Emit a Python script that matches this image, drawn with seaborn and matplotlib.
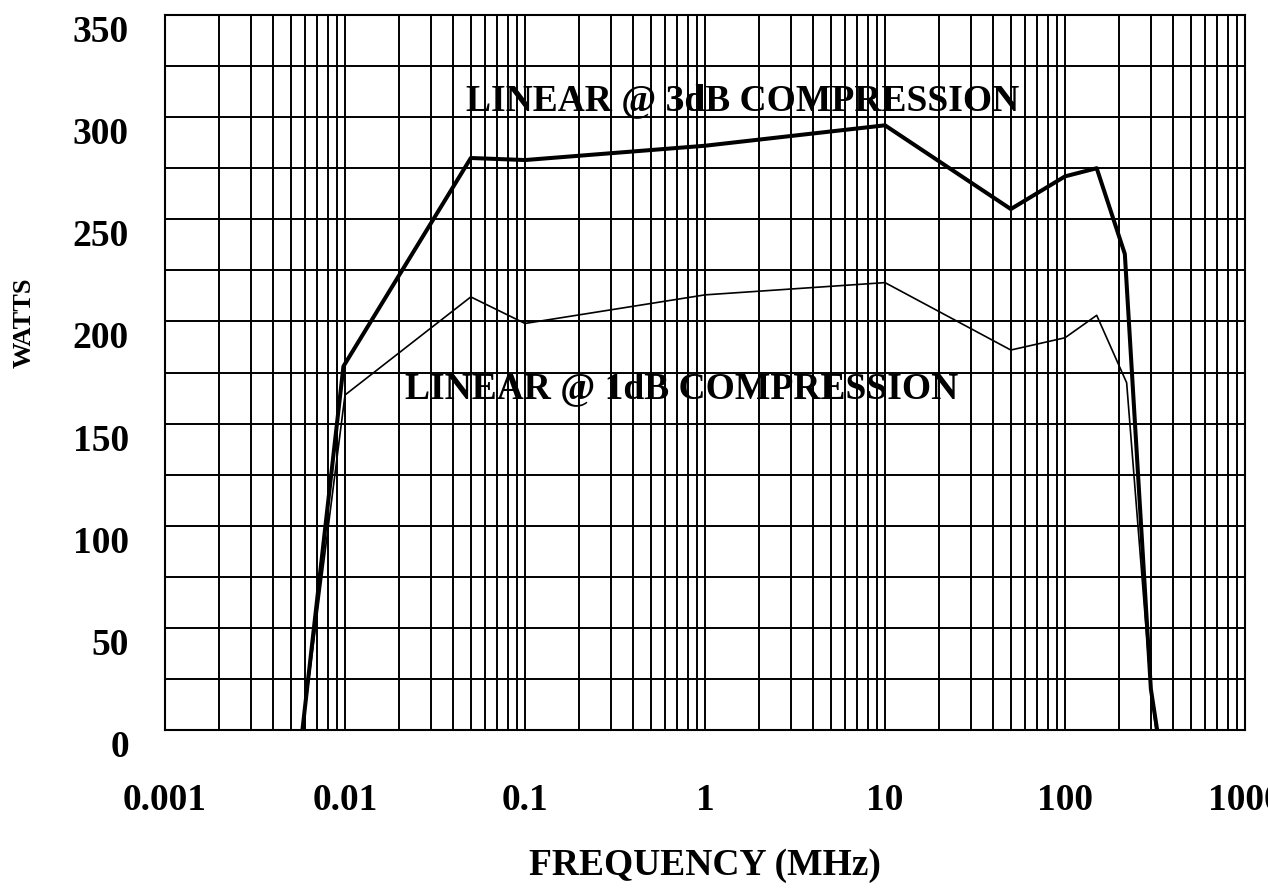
import matplotlib
matplotlib.use('Agg')
import matplotlib.pyplot as plt
import pandas as pd
import seaborn as sns
from matplotlib.ticker import MultipleLocator, LogLocator, FixedLocator, NullFormatter

# 3dB compression curve (thick)
freq_3db = [0.0058, 0.0098, 0.05, 0.1, 1, 10, 50, 100, 150, 215, 300, 325]
watts_3db = [0, 178, 280, 279, 286, 296, 255, 271, 275, 233, 20, 0]

# 1dB compression curve (thin)
freq_1db = [0.0058, 0.01, 0.05, 0.1, 1, 10, 50, 100, 150, 220, 300, 320]
watts_1db = [0, 164, 212, 199, 213, 219, 186, 192, 203, 170, 20, 0]

x_ticks = [0.001, 0.01, 0.1, 1, 10, 100, 1000]
x_labels = ['0.001', '0.01', '0.1', '1', '10', '100', '1000']
y_ticks = [0, 50, 100, 150, 200, 250, 300, 350]

df3 = pd.DataFrame({'freq': freq_3db, 'watts': watts_3db})
df1 = pd.DataFrame({'freq': freq_1db, 'watts': watts_1db})

sns.set_style('white')
plt.rcParams['font.family'] = ['Liberation Serif', 'DejaVu Serif']
plt.rcParams['font.weight'] = 'bold'
plt.rcParams['text.color'] = 'black'
plt.rcParams['axes.labelcolor'] = 'black'
plt.rcParams['xtick.color'] = 'black'
plt.rcParams['ytick.color'] = 'black'

FONT = dict(family='Liberation Serif', weight='bold', color='black')

fig = plt.figure(figsize=(12.68, 8.9), dpi=100)
ax = fig.add_axes([165 / 1268, 1 - 730 / 890, 1080 / 1268, 715 / 890])

sns.lineplot(data=df3, x='freq', y='watts', color='black', linewidth=2.9,
             estimator=None, sort=False, ax=ax)
sns.lineplot(data=df1, x='freq', y='watts', color='black', linewidth=1.2,
             estimator=None, sort=False, ax=ax)

ax.set_xscale('log')
ax.set_xlim(0.001, 1000)
ax.set_ylim(0, 350)
ax.xaxis.set_major_locator(FixedLocator(x_ticks))
ax.set_xticklabels(x_labels)
ax.xaxis.set_minor_locator(LogLocator(base=10, subs=range(2, 10), numticks=50))
ax.xaxis.set_minor_formatter(NullFormatter())
ax.set_yticks(y_ticks)
ax.yaxis.set_minor_locator(MultipleLocator(25))

ax.grid(True, which='both', color='black', linewidth=1.4)
ax.set_axisbelow(False)
for s in ax.spines.values():
    s.set_color('black')
    s.set_linewidth(1.5)

ax.tick_params(which='both', length=0)
ax.tick_params(axis='x', labelsize=27, pad=38)
ax.tick_params(axis='y', labelsize=27, pad=26)
for lab in ax.get_yticklabels():
    lab.set_va('top')
    lab.set(**FONT)
for lab in ax.get_xticklabels():
    lab.set(**FONT)

ax.set_xlabel('FREQUENCY (MHz)', fontsize=27, **FONT)
ax.xaxis.label.set_va('center')
ax.xaxis.set_label_coords(0.5, -0.189)
ax.set_ylabel('WATTS', fontsize=19, **FONT)
ax.yaxis.label.set_va('center')
ax.yaxis.set_label_coords(-0.1306, 0.57)

ax.text(0.279, 0.867, 'LINEAR @ 3dB COMPRESSION', transform=ax.transAxes,
        fontsize=27, ha='left', va='baseline', **FONT)
ax.text(0.222, 0.464, 'LINEAR @ 1dB COMPRESSION', transform=ax.transAxes,
        fontsize=27, ha='left', va='baseline', **FONT)

fig.savefig('out.png', dpi=100)
